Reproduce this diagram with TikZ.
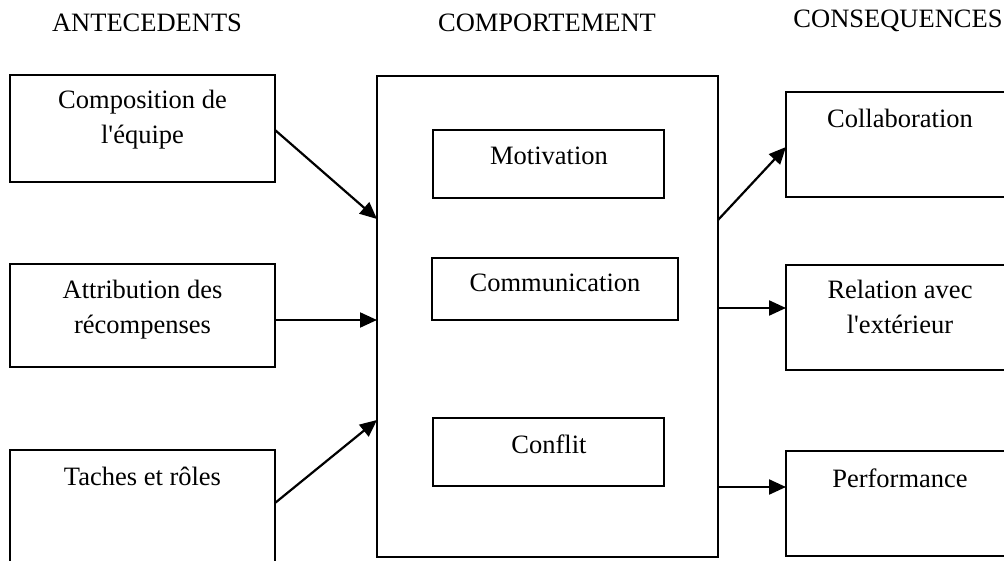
\documentclass[tikz,border=0pt]{standalone}
\usepackage{fontspec}
\setmainfont{Liberation Serif}
\usetikzlibrary{arrows.meta}

\tikzset{
  box/.style={draw, line width=2.2pt, anchor=north west, inner sep=0pt, outer sep=0pt},
  lbl/.style={anchor=base, align=center, inner sep=0pt,
              font=\fontsize{26.5}{35}\selectfont},
  link/.style={line width=2.2pt, -{Triangle[length=17pt, width=15pt]}},
}

\begin{document}
\begin{tikzpicture}[x=1pt, y=-1pt]
  \clip (0,0) rectangle (1004,561);

  % column headings
  \node[lbl] (hA) at (147,32) {ANTECEDENTS};
  \node[lbl] (hB) at (547,32) {COMPORTEMENT};
  \node[lbl] (hC) at (898,28) {CONSEQUENCES};

  % antecedents (two-line labels sit on the baseline of their last line)
  \node[box, minimum width=265pt, minimum height=107pt] (a1) at (10,75) {};
  \node[box, minimum width=265pt, minimum height=103pt] (a2) at (10,264) {};
  \node[box, minimum width=265pt, minimum height=160pt] (a3) at (10,450) {};
  \node[lbl] (a1t) at (142.5,144) {Composition de\\l\textquotesingle équipe};
  \node[lbl] (a2t) at (142.5,334) {Attribution des\\récompenses};
  \node[lbl] (a3t) at (142.5,485) {Taches et rôles};

  % behaviour
  \node[box, minimum width=341pt, minimum height=481pt] (c) at (377,76) {};
  \node[box, minimum width=231pt, minimum height=68pt] (c1) at (433,130) {};
  \node[box, minimum width=246pt, minimum height=62pt] (c2) at (432,258) {};
  \node[box, minimum width=231pt, minimum height=68pt] (c3) at (433,418) {};
  \node[lbl] (c1t) at (549,165) {Motivation};
  \node[lbl] (c2t) at (555,292) {Communication};
  \node[lbl] (c3t) at (549,453) {Conflit};

  % consequences
  \node[box, minimum width=260pt, minimum height=105pt] (r1) at (786,92) {};
  \node[box, minimum width=260pt, minimum height=105pt] (r2) at (786,265) {};
  \node[box, minimum width=260pt, minimum height=105pt] (r3) at (786,451) {};
  \node[lbl] (r1t) at (900,128) {Collaboration};
  \node[lbl] (r2t) at (900,334) {Relation avec\\l\textquotesingle extérieur};
  \node[lbl] (r3t) at (900,487) {Performance};

  % arrows into the behaviour box
  \draw[link] ([yshift=-55pt]a1.north east) -- ([yshift=-143pt]c.north west);
  \draw[link] ([yshift=-56pt]a2.north east) -- ([yshift=-244pt]c.north west);
  \draw[link] ([yshift=-53pt]a3.north east) -- ([yshift=-344pt]c.north west);

  % arrows out of the behaviour box
  \draw[link] ([yshift=-144pt]c.north east) -- ([yshift=-55pt]r1.north west);
  \draw[link] ([yshift=-232pt]c.north east) -- ([yshift=-43pt]r2.north west);
  \draw[link] ([yshift=-411pt]c.north east) -- ([yshift=-36pt]r3.north west);
\end{tikzpicture}
\end{document}
